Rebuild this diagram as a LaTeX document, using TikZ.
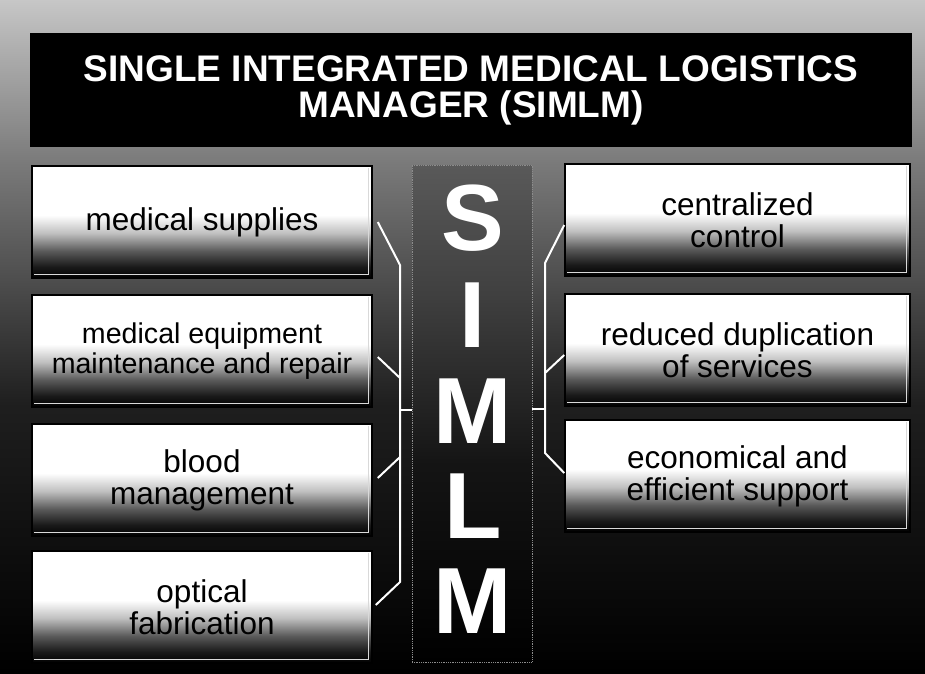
\documentclass[tikz,border=0pt]{standalone}
\usepackage{fontspec}
\setmainfont{Liberation Sans}
\usetikzlibrary{calc}
\pgfdeclareverticalshading{boxshade}{100bp}{color(0bp)=(black); color(25bp)=(black); color(30bp)=(black!90); color(37bp)=(black!65); color(45bp)=(black!25); color(53bp)=(white); color(100bp)=(white)}
\pgfdeclareverticalshading{bgshade}{100bp}{color(0bp)=(black); color(25bp)=(black); color(45bp)=(black!88); color(53bp)=(black!72); color(63bp)=(black!52); color(72bp)=(black!30); color(75bp)=(black!22); color(100bp)=(black!22)}
\pgfdeclareverticalshading{colshade}{100bp}{color(0bp)=(black); color(25bp)=(black); color(45bp)=(black!92); color(62bp)=(black!75); color(75bp)=(black!65); color(100bp)=(black!65)}
\tikzset{
  item/.style={draw=black, line width=1.5pt, shading=boxshade, minimum width=340pt, minimum height=112pt,
    align=center, inner sep=0pt, text=black, font=\fontsize{31.5}{32}\selectfont},
  ritem/.style={item, minimum width=345pt},
  bevel/.style={draw=white!85!black, line width=1pt},
  wire/.style={draw=white, line width=2pt},
  letter/.style={text=white, inner sep=0pt, anchor=base, font=\fontsize{94}{94}\selectfont\bfseries},
}
\begin{document}
\begin{tikzpicture}[x=1pt,y=-1pt]
\useasboundingbox (0,0) rectangle (925,673);
\shade[shading=bgshade] (0,0) rectangle (925,673);
% title
\node[fill=black, minimum width=882pt, minimum height=114pt, inner sep=0pt, text=white, align=center,
      font=\fontsize{37}{36}\selectfont\bfseries] (T) at (471,90)
      {SINGLE INTEGRATED MEDICAL LOGISTICS\\MANAGER (SIMLM)};
% centre column
\node[shading=colshade, draw=black!45, densely dotted, line width=0.8pt, minimum width=120pt, minimum height=497pt, inner sep=0pt] (C) at (472,413.5) {};
\node[letter] (s1) at (473,250) {S};
\node[letter] (s2) at (473,347) {I};
\node[letter] (s3) at (473,443) {M};
\node[letter] (s4) at (473,538) {L};
\node[letter] (s5) at (473,633) {M};
% left boxes
\node[item] (L1) at (202,222) {medical supplies};
\node[item, font=\fontsize{28.6}{30}\selectfont] (L2) at (202,351) {medical equipment\\maintenance and repair};
\node[item] (L3) at (202,480) {blood\\management};
\node[item] (L4) at (202,607) {optical\\fabrication};
% right boxes
\node[ritem] (R1) at (737.5,220) {centralized\\control};
\node[ritem] (R2) at (737.5,350) {reduced duplication\\of services};
\node[ritem] (R3) at (737.5,476) {economical and\\efficient support};
% bevels
\foreach \b in {L1,L2,L3,L4,R1,R2,R3}{
  \draw[bevel] ([xshift=3pt,yshift=4pt]\b.south west) -- ([xshift=-4pt,yshift=4pt]\b.south east) -- ([xshift=-4pt,yshift=-3pt]\b.north east);
}
% left bracket
\coordinate (la1) at ($(L1.east)+(5,0)$);
\coordinate (la2) at (400,265);
\coordinate (lb1) at ($(L2.east)+(5,6)$);
\coordinate (lb2) at (400,378);
\coordinate (lc1) at ($(L3.east)+(5,-2)$);
\coordinate (lc2) at (400,457);
\coordinate (ld1) at ($(L4.east)+(3,-2)$);
\coordinate (ld2) at (400,582);
\coordinate (lt) at (400,410);
\draw[wire] (la1) -- (la2) -- (ld2) -- (ld1);
\draw[wire] (lb1) -- (lb2);
\draw[wire] (lc1) -- (lc2);
\draw[wire] (lt) -- (C.west |- lt);
% right bracket
\coordinate (ra1) at ($(R1.west)+(0,5)$);
\coordinate (ra2) at (545,263);
\coordinate (rb1) at ($(R2.west)+(0,5)$);
\coordinate (rb2) at (545,373);
\coordinate (rc1) at ($(R3.west)+(0,-3)$);
\coordinate (rc2) at (545,453);
\coordinate (rt) at (545,409);
\draw[wire] (ra1) -- (ra2) -- (rc2) -- (rc1);
\draw[wire] (rb1) -- (rb2);
\draw[wire] (rt) -- (C.east |- rt);
\end{tikzpicture}
\end{document}
